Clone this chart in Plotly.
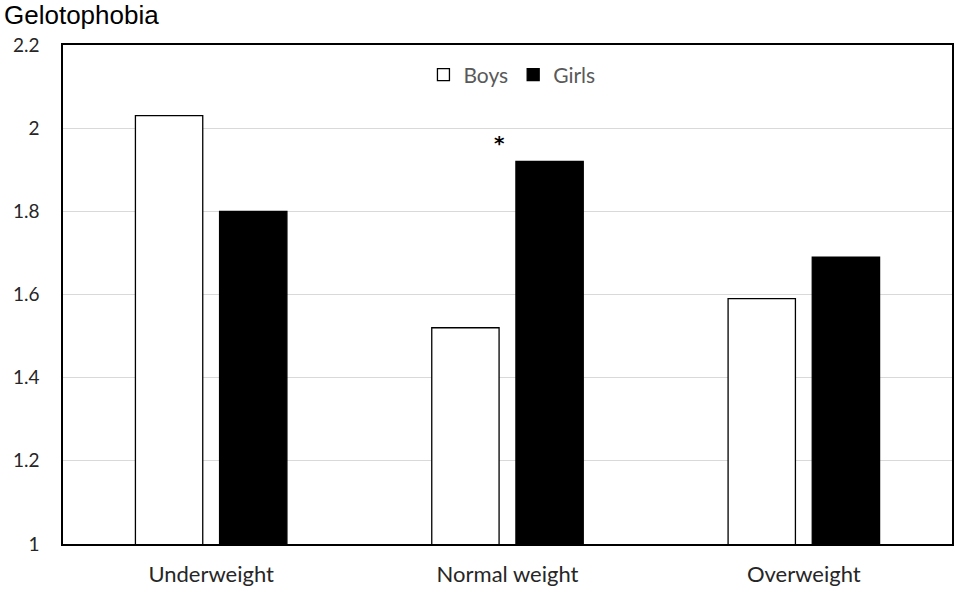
import plotly.graph_objects as go

categories = ["Underweight", "Normal weight", "Overweight"]
boys = [2.03, 1.52, 1.59]
girls = [1.80, 1.92, 1.69]
y_ticks = [1, 1.2, 1.4, 1.6, 1.8, 2, 2.2]
y_tick_labels = ["1", "1.2", "1.4", "1.6", "1.8", "2", "2.2"]
star_category = "Normal weight"
star_y = 1.965

fig = go.Figure()
fig.add_trace(go.Bar(name="Boys", x=categories, y=boys,
                     marker=dict(color="white", line=dict(color="black", width=1.3))))
fig.add_trace(go.Bar(name="Girls", x=categories, y=girls,
                     marker=dict(color="black", line=dict(color="black", width=1.3))))

fig.add_annotation(x=star_category, y=star_y, text="<b>*</b>", showarrow=False,
                   xshift=-8, font=dict(family="DejaVu Sans", size=20, color="black"))

# title as annotation so it can sit left of the plot area
fig.add_annotation(text="Gelotophobia", xref="paper", yref="paper",
                   x=-61 / 889, y=(529 / 499), xanchor="left", yanchor="middle",
                   showarrow=False,
                   font=dict(family="Liberation Sans", size=26, color="black"))

fig.update_layout(
    width=956, height=589,
    margin=dict(l=63, r=4, t=45, b=45, autoexpand=False),
    plot_bgcolor="white", paper_bgcolor="white",
    barmode="group", bargap=0.432, bargroupgap=0.2,
    legend=dict(orientation="h", x=0.505, xanchor="center", y=0.94, yanchor="middle",
                font=dict(family="Lato", size=21, color="#595959"),
                itemwidth=30, bgcolor="rgba(0,0,0,0)", traceorder="normal"),
    font=dict(family="Lato", size=19, color="#262626"),
)
fig.update_yaxes(range=[1, 2.2], tickvals=y_ticks, ticktext=y_tick_labels,
                 showgrid=True, gridcolor="#d9d9d9", gridwidth=1,
                 showline=True, linecolor="black", linewidth=1.5, mirror=True,
                 ticks="", zeroline=False, ticklabelstandoff=18, automargin=False,
                 tickfont=dict(family="Lato", size=19, color="#262626"))
fig.update_xaxes(showline=True, linecolor="black", linewidth=1.5, mirror=True,
                 ticks="", tickfont=dict(family="Lato", size=22, color="#262626"),
                 ticklabelstandoff=10, automargin=False)

fig.write_html("out.html", config={"displayModeBar": False},
               post_script="document.body.style.margin='0px';")
